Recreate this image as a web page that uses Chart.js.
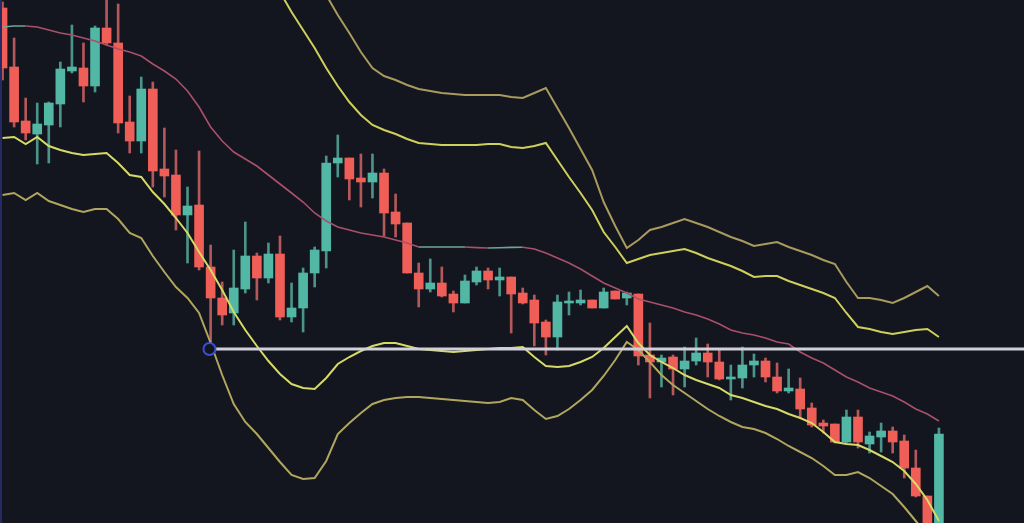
<!DOCTYPE html>
<html>
<head>
<meta charset="utf-8">
<title>Candles with Bollinger bands</title>
<script src="https://cdn.jsdelivr.net/npm/chart.js@4.4.1/dist/chart.umd.min.js"></script>
<style>
  html, body { margin: 0; padding: 0; background: #13151f; overflow: hidden; }
  #wrap { position: relative; width: 1024px; height: 523px; }
  #edge { position: absolute; left: 0; top: 0; width: 2px; height: 100%; background: #262a63; }
</style>
</head>
<body>
<div id="wrap">
  <canvas id="chart" width="1024" height="523"></canvas>
  <div id="edge"></div>
</div>
<script>
// candle prices, one per bar
const opens = [515,456,402,389,398,419,452,455,437,495, 480,401,382,434,354,348,308,318,256,225,
  210,234,267,245,269,206,215,250,272,360, 365,345,341,350,311,300,250,234,240,229,
  220,241,252,243,246,230,223,201,186,220, 220,223,215,232,225,229,168,161,166,154,
  162,170,161,144,145,158,162,146,132,134, 115,100,99,81,106,79,86,92,82,55, 27,-5];
const highs = [521,485,425,420,421,461,498,480,497,526, 519,427,446,441,395,373,336,372,278,241,
  273,301,270,280,287,240,255,276,367,388, 365,369,369,354,329,300,260,264,256,232,
  248,256,255,255,246,235,228,203,228,231, 233,223,235,232,231,229,200,168,168,176,
  185,179,173,158,176,169,165,160,154,145, 120,103,99,113,113,91,100,96,88,73, 27,95];
const lows = [443,396,383,359,360,396,450,421,431,478, 390,370,370,336,326,293,260,253,178,198,
  198,230,223,240,203,201,191,236,255,346, 323,316,325,287,286,250,216,231,226,211,
  220,238,234,227,190,219,177,168,173,208, 218,215,215,224,218,158,125,136,128,136,
  158,146,143,123,135,146,141,130,130,105, 96,90,80,80,75,70,71,70,45,26, -12,-12];
const closes = [455,401,390,399,420,454,456,437,495,480, 400,382,434,352,347,308,317,256,225,208,
  235,267,245,269,206,215,250,273,360,365, 344,341,350,310,299,250,234,240,227,220,
  242,252,243,246,229,220,200,186,221,222, 223,215,231,224,230,167,161,165,154,162,
  170,161,144,146,158,162,146,132,135,114, 98,97,81,106,81,87,92,81,55,27, -5,89];

// bollinger bands and basis line
const middleBand = [496,497,497,496,493,490,488,485,482,478, 474,471,467,459,452,444,432,416,396,382,
  371,364,357,348,339,330,321,310,302,296, 293,290,288,286,283,280,276,276,276,276,
  276,275.4,275,275.2,275.6,275.8,274,270,265,260, 254,247,240,235,230,224,221,218,215,211,
  208,204,199,193,190,188,185,181,179,171, 165,160,153,146,141,135,131,127,121,114, 109,102];
const upperInner = [null,null,null,null,null,null,null,null,null,null, null,null,null,null,null,null,null,null,null,null,
  null,null,null,null,531,511,493,475,455,437, 421,408,398,393,389,384,380,379,378,378,
  378,378,379,379,376,375,377,380,363,346, 330,313,291,276,260,264,268,270,272,274,
  270,265,261,257,252,246,247,247,242,238, 234,230,225,210,196,194,191,189,191,193, 194,186];
const upperOuter = [null,null,null,null,null,null,null,null,null,null, null,null,null,null,null,null,null,null,null,null,
  null,null,null,null,null,null,null,548,528,508, 490,471,455,447,443,438,434,432,430,429,
  428,428,428,428,426,425,430,435,415,395, 374,353,321,297,275,283,293,296,300,304,
  300,296,291,286,282,277,279,281,276,272, 268,263,259,241,225,225,223,220,225,231, 237,227];
const lowerInner = [385,386,379,386,377,373,370,368,369,370, 360,348,346,331,319,305,290,271,253,233,
  211,193,177,162,149,139,135,134,145,159, 166,172,177,180,180,177,174,173,172,171,
  172,173,174,175,175,176,166,157,156,157, 161,166,175,186,197,180,168,161,155,148,
  143,139,135,128,125,121,117,114,109,105, 100,91,81,79,78,73,67,61,52,39, 23,2];
const lowerOuter = [328,330,323,330,322,318,314,311,314,314, 304,290,285,267,251,236,225,210,180,148,
  119,101,89,75,61,48,44,45,62,89, 100,110,119,123,125,126,126,125,124,123,
  122,121,120,121,125,123,113,104,107,114, 123,133,147,163,181,173,161,148,138,130,
  122,114,107,101,96,94,90,84,77,71, 65,57,48,48,51,45,37,29,16,2, -12,-25];

// horizontal level drawn from the marked bar
const levelPrice = 174;
const levelStart = 17.9;

// visible window (bar index units) and price range
const viewStart = -0.22, viewEnd = 88.36;
const priceMin = 0, priceMax = 523;

const UP = '#52b7a5', DOWN = '#ef5f57';
const UP_WICK = '#4a948a', DOWN_WICK = '#b4585a';
const BG = '#13151f';

const isUp = i => closes[i] >= opens[i];
const pts = arr => arr.map((v, i) => ({ x: i, y: v }));

const bodies = opens.map((o, i) => ({ x: i, y: [o, closes[i]] }));
const wicks = opens.map((o, i) => ({ x: i, y: [lows[i], highs[i]] }));

function band(data, color, width, order) {
    return {
        type: 'line', data: pts(data), borderColor: color, borderWidth: width,
        pointRadius: 0, tension: 0, spanGaps: false, order: order
    };
}

new Chart(document.getElementById('chart').getContext('2d'), {
    type: 'bar',
    data: {
        datasets: [
            {
                type: 'line',
                data: [{ x: levelStart, y: levelPrice }, { x: viewEnd, y: levelPrice }],
                borderColor: '#cfd0da', borderWidth: 3,
                pointRadius: [6, 0], pointBorderWidth: 2,
                pointBorderColor: '#3c4ed6', pointBackgroundColor: BG,
                order: 0
            },
            band(upperOuter, '#a99b5d', 2, 1),
            band(lowerOuter, '#b1a65e', 2, 1),
            band(upperInner, '#cfcf5c', 2, 2),
            band(lowerInner, '#d6da66', 2, 2),
            {
                type: 'line', data: pts(middleBand), borderWidth: 1.6, pointRadius: 0, order: 3,
                segment: {
                    borderColor: ctx => ctx.p1.parsed.y >= ctx.p0.parsed.y ? '#6fa597' : '#a9506a'
                }
            },
            {
                data: bodies, order: 6, barThickness: 9, grouped: false, minBarLength: 2,
                backgroundColor: bodies.map((b, i) => isUp(i) ? UP : DOWN), borderWidth: 0
            },
            {
                data: wicks, order: 7, barThickness: 2, grouped: false,
                backgroundColor: wicks.map((w, i) => isUp(i) ? UP_WICK : DOWN_WICK), borderWidth: 0
            }
        ]
    },
    options: {
        responsive: false,
        animation: false,
        layout: { padding: 0, autoPadding: false },
        plugins: { legend: { display: false }, tooltip: { enabled: false } },
        scales: {
            x: { type: 'linear', min: viewStart, max: viewEnd, offset: false, display: false },
            y: { type: 'linear', min: priceMin, max: priceMax, display: false }
        }
    }
});
</script>
</body>
</html>
